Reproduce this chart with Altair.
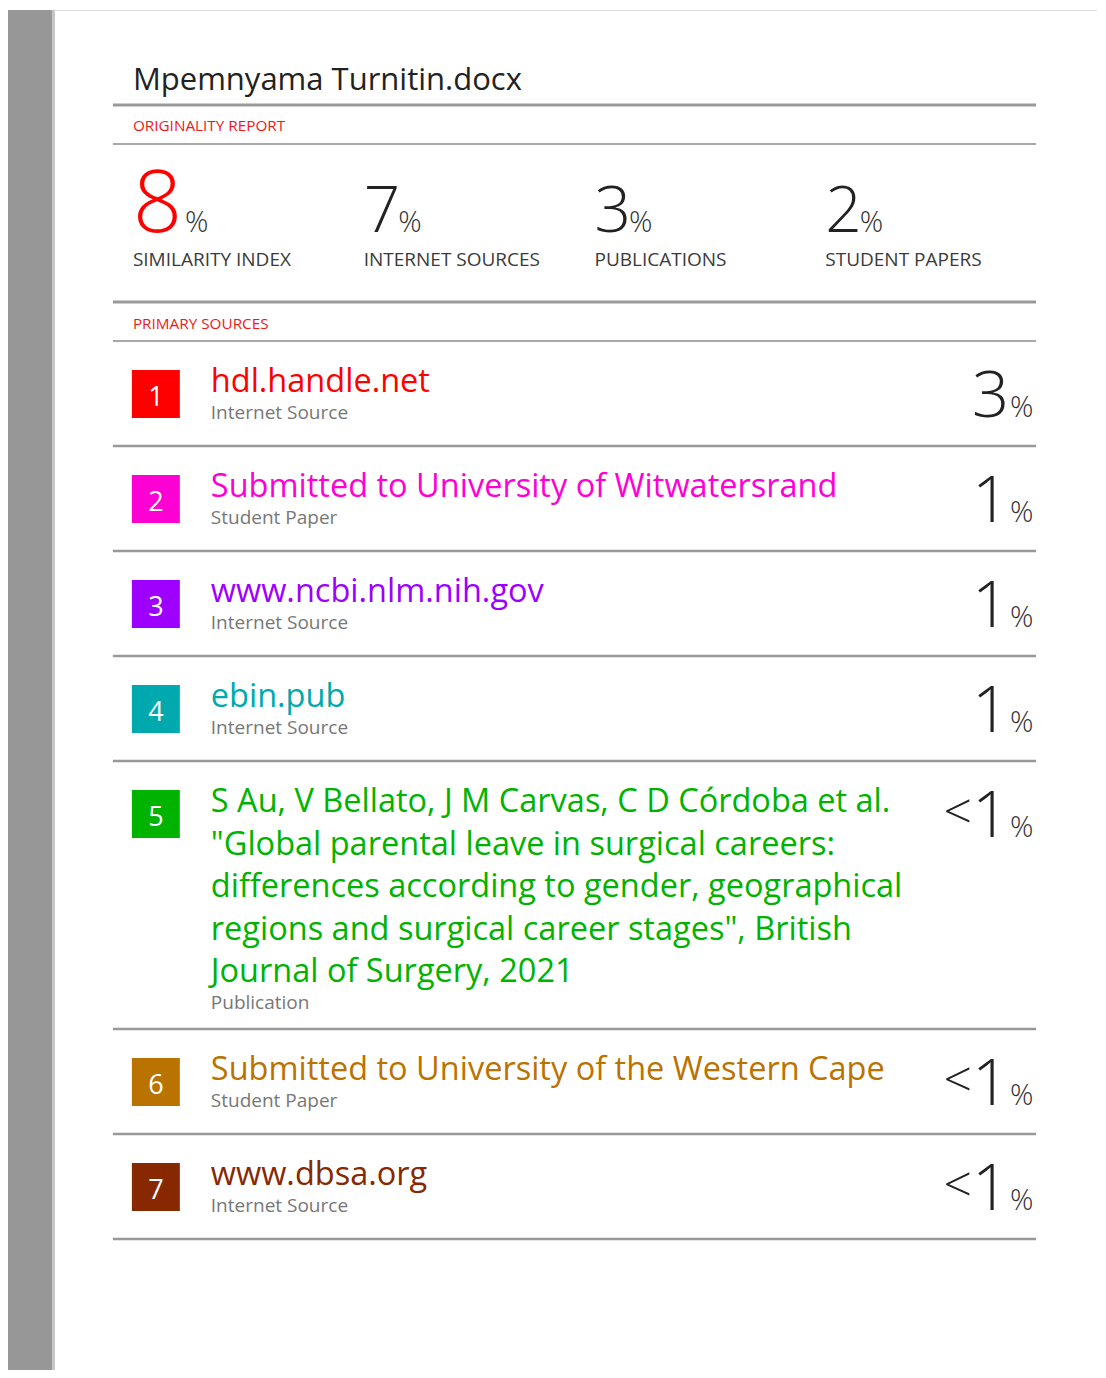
import altair as alt
import pandas as pd

# ---------------- content ----------------
doc_title = "Mpemnyama Turnitin.docx"
section_labels = ["ORIGINALITY REPORT", "PRIMARY SOURCES"]
summary_values = ["8", "7", "3", "2"]
summary_labels = ["SIMILARITY INDEX", "INTERNET SOURCES", "PUBLICATIONS", "STUDENT PAPERS"]
source_ranks = ["1", "2", "3", "4", "5", "6", "7"]
source_titles = [
    ["hdl.handle.net"],
    ["Submitted to University of Witwatersrand"],
    ["www.ncbi.nlm.nih.gov"],
    ["ebin.pub"],
    ["S Au, V Bellato, J M Carvas, C D Córdoba et al.",
     "\"Global parental leave in surgical careers:",
     "differences according to gender, geographical",
     "regions and surgical career stages\", British",
     "Journal of Surgery, 2021"],
    ["Submitted to University of the Western Cape"],
    ["www.dbsa.org"],
]
source_types = ["Internet Source", "Student Paper", "Internet Source", "Internet Source",
                "Publication", "Student Paper", "Internet Source"]
source_pcts = ["3", "1", "1", "1", "<1", "<1", "<1"]
source_colors = ["#ff0000", "#ff00d4", "#9d00ff", "#00a9ad", "#00b300", "#bb7300", "#872800"]

# ---------------- layout ----------------
FONT = "Open Sans"
X0, X1 = 8, 1098
Y0, Y1 = 8, 1370
TEXT_L = 133
RULE_L, RULE_R = 113, 1037
DARK = "#222222"
GREY_TXT = "#777777"
RULE_C = "#999999"

xs = alt.Scale(domain=[X0, X1], nice=False, zero=False)
ys = alt.Scale(domain=[Y0, Y1], nice=False, zero=False, reverse=True)


def X(f):
    return alt.X(f, type="quantitative", scale=xs, axis=None)


def Y(f):
    return alt.Y(f, type="quantitative", scale=ys, axis=None)


texts = []  # x, y, text, size, color, weight, align


def add_text(x, y, t, size, color, weight=400, align="left"):
    texts.append(dict(x=x, y=y, t=t, size=size, color=color, weight=weight, align=align))


rects = []  # x, x2, y, y2, color
rules = []  # x, x2, y, w, color

# page chrome
rects.append(dict(x=8, x2=52, y=10, y2=Y1, color="#979797"))
rects.append(dict(x=52, x2=55, y=10, y2=Y1, color="#c6c6c6"))
rules.append(dict(x=55, x2=X1, y=10.5, w=1, color="#dddddd"))

# header
add_text(TEXT_L, 90, doc_title, 31, DARK)
rules.append(dict(x=RULE_L, x2=RULE_R, y=105, w=3, color=RULE_C))
add_text(TEXT_L, 131, section_labels[0], 15.3, "#f01818")
rules.append(dict(x=RULE_L, x2=RULE_R, y=144, w=2, color="#a8a8a8"))

# summary
col_x = [TEXT_L, 364, 595, 826]
for i, (v, lab) in enumerate(zip(summary_values, summary_labels)):
    size = 86 if i == 0 else 64
    color = "#ff0000" if i == 0 else DARK
    gap = 3 if i == 0 else -2
    add_text(col_x[i], 232, v, size, color, weight=300)
    add_text(col_x[i] + 0.572 * size + gap, 232, "%", 29, "#333333", weight=300)
    add_text(col_x[i], 266, lab, 19, "#3a3a3a")

rules.append(dict(x=RULE_L, x2=RULE_R, y=302, w=3, color=RULE_C))
add_text(TEXT_L, 329, section_labels[1], 15.3, "#f01818")
rules.append(dict(x=RULE_L, x2=RULE_R, y=341, w=2, color="#a8a8a8"))

# sources
top = 341
for rank, lines, typ, pct, col in zip(source_ranks, source_titles, source_types,
                                      source_pcts, source_colors):
    rects.append(dict(x=132, x2=180, y=top + 29, y2=top + 77, color=col))
    add_text(156, top + 65, rank, 27, "#ffffff", align="center")
    base = top + 51
    for j, line in enumerate(lines):
        add_text(211, base + j * 42.5, line, 32.5, col)
    add_text(211, base + (len(lines) - 1) * 42.5 + 27, typ, 19, GREY_TXT)
    num = pct.lstrip("<")
    add_text(1010, top + 76, num, 65, DARK, weight=300, align="right")
    if pct.startswith("<"):
        add_text(973, top + 68, "<", 50, DARK, weight=300, align="right")
    add_text(1011, top + 76, "%", 29, "#333333", weight=300)
    top += 105 + (len(lines) - 1) * 40.75
    rules.append(dict(x=RULE_L, x2=RULE_R, y=top, w=2.5, color=RULE_C))

rect_df = pd.DataFrame(rects)
rule_df = pd.DataFrame(rules)
text_df = pd.DataFrame(texts)

layers = []
layers.append(
    alt.Chart(rect_df).mark_rect().encode(
        x=X("x"), x2="x2", y=Y("y"), y2="y2",
        color=alt.Color("color:N", scale=None)
    )
)
for w in sorted(rule_df["w"].unique()):
    layers.append(
        alt.Chart(rule_df[rule_df["w"] == w]).mark_rule(strokeWidth=float(w)).encode(
            x=X("x"), x2="x2", y=Y("y"),
            color=alt.Color("color:N", scale=None)
        )
    )
for (align, weight), sub in text_df.groupby(["align", "weight"]):
    layers.append(
        alt.Chart(sub).mark_text(
            align=align, baseline="alphabetic", font=FONT, fontWeight=int(weight)
        ).encode(
            x=X("x"), y=Y("y"), text="t:N",
            size=alt.Size("size:Q", scale=None),
            color=alt.Color("color:N", scale=None),
        )
    )

chart = alt.layer(*layers).properties(
    width=X1 - X0, height=Y1 - Y0,
    autosize=alt.AutoSizeParams(type="fit", contains="padding"),
    padding=0,
    background="#ffffff",
).configure_view(stroke=None)

chart.save("out.html", embed_options={"renderer": "svg", "actions": False})
